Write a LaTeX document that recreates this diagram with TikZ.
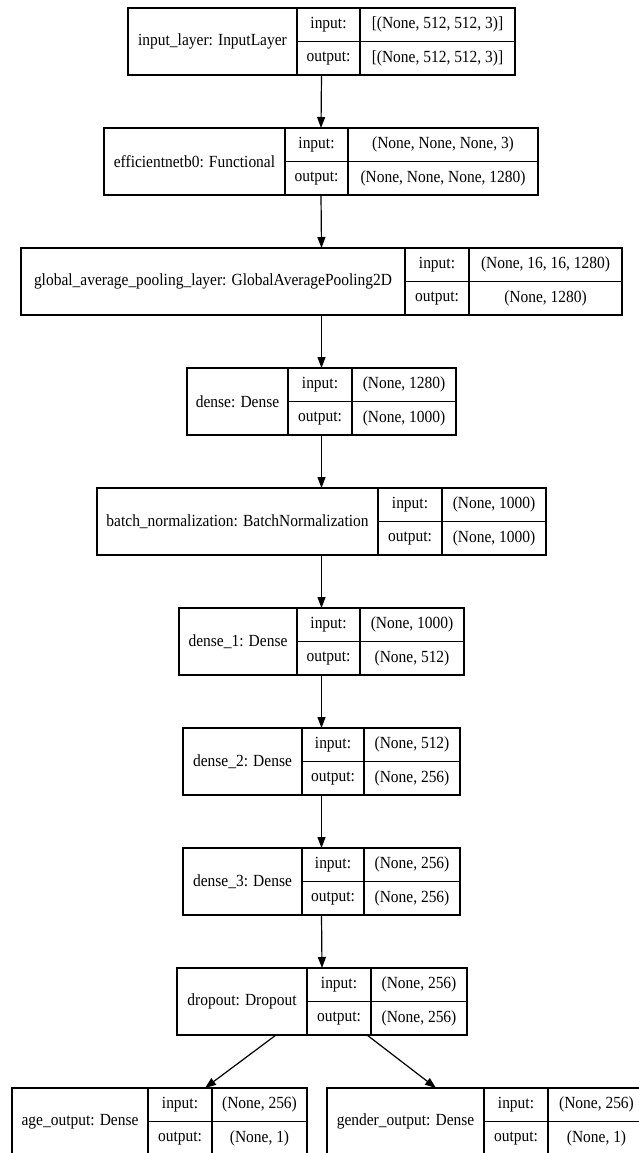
\documentclass[tikz,border=0pt]{standalone}
\usepackage{fontspec}
\usepackage{graphicx}
\setmainfont{Liberation Serif}
\usetikzlibrary{arrows.meta,calc}
\tikzset{
  boxsh/.style={draw, line width=1.5pt, inner sep=0pt, outer sep=0pt},
  cellline/.style={line width=1.1pt},
  txt/.style={inner sep=0pt, font=\fontsize{17}{20}\selectfont},
  arr/.style={line width=1.2pt, -{Triangle[length=11pt,width=8pt]}},
}
\newcommand{\sx}[1]{\scalebox{0.91}[1]{#1}}
% name, x1, xa, xb, x2, ytop, label, input, output
\newcommand{\lay}[9]{%
  \node[boxsh, minimum width={(#5-#2)*1pt}, minimum height=67pt] (#1) at ({(#2+#5)/2},{#6+33.5}) {};
  \draw[cellline] (#3,#6) -- (#3,{#6+67});
  \draw[cellline] (#4,#6) -- (#4,{#6+67});
  \draw[cellline] (#3,{#6+33.5}) -- (#5,{#6+33.5});
  \node[txt] (#1-l) at ({(#2+#3)/2},{#6+33.5}) {\sx{#7}};
  \node[txt] (#1-ik) at ({(#3+#4)/2},{#6+16.75}) {\sx{input:}};
  \node[txt] (#1-ok) at ({(#3+#4)/2},{#6+50.25}) {\sx{output:}};
  \node[txt] (#1-iv) at ({(#4+#5)/2},{#6+16.75}) {\sx{#8}};
  \node[txt] (#1-ov) at ({(#4+#5)/2},{#6+50.25}) {\sx{#9}};
}
\begin{document}
\begin{tikzpicture}[x=1pt,y=-1pt]
\fill[white] (0,0) rectangle (638,1153);
\useasboundingbox (0,0) rectangle (638,1153);
\lay{inp}{128}{297}{360}{515}{8}{input\_layer: InputLayer}{[(None, 512, 512, 3)]}{[(None, 512, 512, 3)]}
\lay{eff}{104}{285}{348}{538}{128}{efficientnetb0: Functional}{(None, None, None, 3)}{(None, None, None, 1280)}
\lay{gap}{21}{405}{469}{622}{248}{global\_average\_pooling\_layer: GlobalAveragePooling2D}{(None, 16, 16, 1280)}{(None, 1280)}
\lay{den}{187}{288}{352}{456}{368}{dense: Dense}{(None, 1280)}{(None, 1000)}
\lay{bn}{97}{378}{442}{546}{488}{batch\_normalization: BatchNormalization}{(None, 1000)}{(None, 1000)}
\lay{da}{179}{297}{360}{464}{608}{dense\_1: Dense}{(None, 1000)}{(None, 512)}
\lay{db}{183}{302}{364}{460}{728}{dense\_2: Dense}{(None, 512)}{(None, 256)}
\lay{dc}{183}{302}{364}{460}{848}{dense\_3: Dense}{(None, 256)}{(None, 256)}
\lay{drop}{177}{307}{371}{467}{968}{dropout: Dropout}{(None, 256)}{(None, 256)}
\lay{age}{12}{148}{212}{307}{1088}{age\_output: Dense}{(None, 256)}{(None, 1)}
\lay{gen}{327}{484}{548}{645}{1088}{gender\_output: Dense}{(None, 256)}{(None, 1)}
\draw[arr] (inp.south) -- (eff.north);
\draw[arr] (eff.south) -- (gap.north);
\draw[arr] (gap.south) -- (den.north);
\draw[arr] (den.south) -- (bn.north);
\draw[arr] (bn.south) -- (da.north);
\draw[arr] (da.south) -- (db.north);
\draw[arr] (db.south) -- (dc.north);
\draw[arr] (dc.south) -- (drop.north);
\coordinate (dropL) at ($(drop.south west)+(99,0)$);
\coordinate (dropR) at ($(drop.south west)+(190,0)$);
\coordinate (ageT) at ($(age.north west)+(193,0)$);
\coordinate (genT) at ($(gen.north west)+(109,0)$);
\draw[arr] (dropL) -- (ageT);
\draw[arr] (dropR) -- (genT);
\end{tikzpicture}
\end{document}
